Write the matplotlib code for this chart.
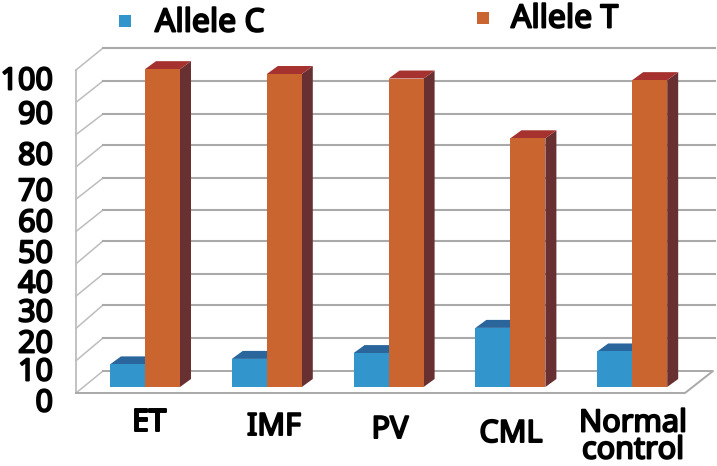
import numpy as np
import matplotlib
matplotlib.use("Agg")
import matplotlib.pyplot as plt
import matplotlib.patheffects as pe
from matplotlib.patches import Polygon

categories = ["ET", "IMF", "PV", "CML", "Normal\ncontrol"]
allele_c = [7, 8.7, 10.5, 18.3, 11]
allele_t = [98.4, 96.9, 95.5, 77, 95]
y_ticks = list(range(0, 101, 10))
y_tick_labels = ["0", "10", "20", "30", "40", "50", "60", "70", "80", "90", "100"]

W, H = 717, 466
X0, PITCH = 145.0, 121.8   # px of first group centre, px between groups
Y0, UNIT = 387.0, 3.23     # px of value 0, px per unit
# the bold face of Noto comes out regular here, so thicken the strokes instead
TXT = dict(family="Noto Sans", color="black",
           path_effects=[pe.withStroke(linewidth=1.4, foreground="black")])


def dx(px):
    return (px - X0) / PITCH


def dy(py):
    return (Y0 - py) / UNIT


fig = plt.figure(figsize=(W / 100, H / 100), dpi=100)
ax = fig.add_axes([0, 0, 1, 1])
ax.set_xlim(dx(0), dx(W)); ax.set_ylim(dy(H), dy(0)); ax.axis("off")

BW = 35 / PITCH; DX = 11 / PITCH; DY = 8 / UNIT
GREY = "#a9a9a9"
FRONT_X, BACK_X, END_X, RIGHT_X = dx(76), dx(103), dx(685), dx(715)
back_vals = [48, 81, 114, 145, 178, 210, 241, 274, 305, 338, 371]

# walls: gridlines on the back, slanted lines on the left side
for v, yb in zip(y_ticks, back_vals[::-1]):
    front = dy(393 - v * 3.23)
    ax.plot([FRONT_X, BACK_X], [front, dy(yb)], color="#bdbdbd", lw=1.1, zorder=1)
    if v > 0:
        ax.plot([BACK_X, RIGHT_X], [dy(yb), dy(yb)], color=GREY, lw=1.5, zorder=1)
ax.plot([FRONT_X, FRONT_X], [dy(393), dy(70)], color="#bdbdbd", lw=1.3, zorder=1)
ax.plot([FRONT_X, END_X, dx(713), BACK_X], [dy(393), dy(393), dy(371), dy(371)],
        color=GREY, lw=1.4, zorder=1)


def bar3d(x, val, front, top, side):
    ax.bar(x, val, BW, align="edge", color=front, edgecolor="none", zorder=3)
    ax.add_patch(Polygon([(x + BW, 0), (x + BW + DX, DY), (x + BW + DX, val + DY), (x + BW, val)],
                         fc=side, ec="none", zorder=2))
    ax.add_patch(Polygon([(x, val), (x + DX, val + DY), (x + BW + DX, val + DY), (x + BW, val)],
                         fc=top, ec="none", zorder=2))


xs = np.arange(len(categories))
for i in xs:
    bar3d(i - BW, allele_c[i], "#3296cd", "#2a659c", "#2a659c")
    bar3d(i, allele_t[i], "#cb6530", "#a5322f", "#683030")

# tick labels sit unevenly in the original
tick_px = [400, 369, 341, 310, 281, 251, 220, 189, 153, 112, 78]
for lab, py in zip(y_tick_labels, tick_px):
    ax.text(dx(53), dy(py), lab, ha="right", va="center_baseline", fontsize=22, **TXT)

cat_px = [(149, 423), (274, 427), (390, 430), (511, 434), (633, 437)]
for lab, (px, py) in zip(categories, cat_px):
    ax.text(dx(px), dy(py), lab, ha="center", va="center", fontsize=22, linespacing=0.87, **TXT)

ax.plot(dx(125), dy(21), "s", color="#3296cd", ms=9, mew=0)
ax.plot(dx(483), dy(18), "s", color="#cb6530", ms=9, mew=0)
ax.text(dx(155), dy(23), "Allele C", ha="left", va="center", fontsize=23, **TXT)
ax.text(dx(511), dy(19), "Allele T", ha="left", va="center", fontsize=23, **TXT)

fig.savefig("out.png", dpi=100, facecolor="white")
